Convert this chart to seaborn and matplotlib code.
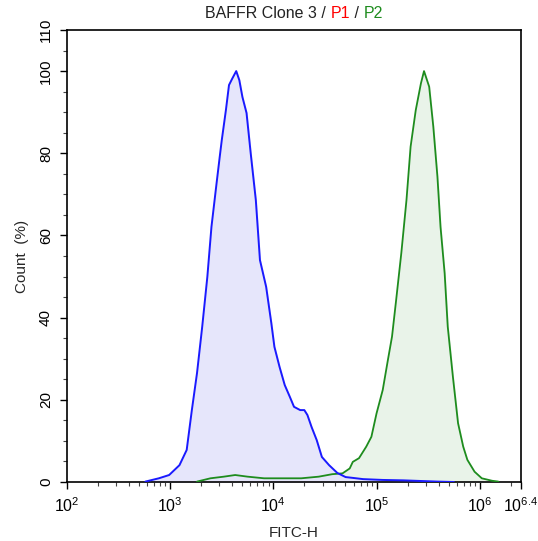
import numpy as np
import pandas as pd
import matplotlib
matplotlib.use("Agg")
import matplotlib.pyplot as plt
import seaborn as sns

# log10(FITC-H) positions and Count (%)
p1_log = [2.76, 2.89, 2.99, 3.09, 3.16, 3.21, 3.26, 3.31, 3.36, 3.40, 3.45, 3.48,
          3.50, 3.54, 3.57, 3.60, 3.64, 3.67, 3.70, 3.74, 3.78, 3.83, 3.87, 3.93,
          3.98, 4.01, 4.06, 4.11, 4.16, 4.20, 4.26, 4.30, 4.33, 4.37, 4.42, 4.47,
          4.54, 4.62, 4.70, 4.77, 4.87, 5.06, 5.26, 5.59, 5.75]
p1_count = [0.1, 0.9, 1.7, 4.1, 7.8, 17.5, 26.5, 37.7, 49.9, 62.1, 72.8, 79.1,
            83.2, 90.5, 96.6, 98.1, 100.0, 97.8, 93.7, 89.8, 80.1, 68.6, 54.0, 47.5,
            38.7, 32.9, 28.0, 23.6, 20.7, 18.3, 17.5, 17.5, 16.3, 13.4, 10.2, 6.1,
            4.1, 2.2, 1.2, 1.0, 0.7, 0.5, 0.4, 0.1, 0.0]

p2_log = [3.26, 3.39, 3.52, 3.63, 3.75, 3.91, 4.08, 4.27, 4.44, 4.57, 4.67, 4.74,
          4.77, 4.83, 4.90, 4.95, 5.00, 5.06, 5.11, 5.15, 5.19, 5.24, 5.29, 5.33,
          5.38, 5.43, 5.46, 5.51, 5.55, 5.59, 5.62, 5.66, 5.69, 5.74, 5.79, 5.84,
          5.88, 5.95, 6.02, 6.12, 6.18]
p2_count = [0.1, 0.9, 1.3, 1.7, 1.3, 0.9, 0.9, 0.9, 1.3, 1.9, 2.1, 3.3,
            4.9, 5.8, 8.6, 11.0, 16.7, 22.4, 29.7, 35.4, 44.3, 55.7, 68.6, 81.6,
            90.5, 97.0, 100.0, 96.2, 86.5, 74.3, 62.1, 50.8, 37.8, 25.6, 14.3, 8.6,
            5.4, 2.5, 0.9, 0.3, 0.1]

x_major = [2, 3, 4, 5, 6, 6.4]
x_major_labels = ["$10^{2}$", "$10^{3}$", "$10^{4}$", "$10^{5}$", "$10^{6}$", "$10^{6.4}$"]
y_major = [0, 20, 40, 60, 80, 100, 110]

sns.set_style("ticks")
plt.rcParams['font.family'] = ['Liberation Sans', 'DejaVu Sans']
plt.rcParams['mathtext.fontset'] = 'custom'
plt.rcParams['mathtext.rm'] = 'Liberation Sans'
plt.rcParams['mathtext.it'] = 'Liberation Sans'

fig = plt.figure(figsize=(5.38, 5.41), dpi=100)
ax = fig.add_axes([67 / 538, 1 - 482 / 541, (521 - 67) / 538, (482 - 30) / 541])

p1 = pd.DataFrame({"FITC-H": np.power(10.0, p1_log), "Count": p1_count})
p2 = pd.DataFrame({"FITC-H": np.power(10.0, p2_log), "Count": p2_count})

ax.fill_between(p2["FITC-H"], p2["Count"], color="#e9f3e9", zorder=1)
ax.fill_between(p1["FITC-H"], p1["Count"], color="#e4e4fb", alpha=0.9, zorder=2)
sns.lineplot(data=p2, x="FITC-H", y="Count", color="#1e8c1e", lw=1.3, ax=ax, zorder=3)
sns.lineplot(data=p1, x="FITC-H", y="Count", color="#1a1aff", lw=1.4, ax=ax, zorder=4)

ax.set_xscale("log")
ax.set_xlim(10 ** 2, 10 ** 6.4)
ax.set_ylim(0, 110)
ax.set_xticks([10 ** v for v in x_major])
ax.set_xticklabels(x_major_labels)
minor = [k * 10 ** d for d in range(2, 7) for k in range(2, 10) if k * 10 ** d < 10 ** 6.4]
ax.set_xticks(minor, minor=True)
ax.set_yticks(y_major)
ax.set_yticks([v for v in range(5, 110, 5) if v not in y_major], minor=True)
ax.tick_params(axis="both", which="major", direction="out", length=5, width=1,
               labelsize=11, colors="black", pad=5)
ax.tick_params(axis="x", which="major", labelsize=11.5)
ax.tick_params(axis="both", which="minor", direction="out", length=3, width=0.8, colors="#444444")
ax.tick_params(axis="y", labelrotation=90)
for t in ax.get_yticklabels():
    t.set_va("center")

for s in ax.spines.values():
    s.set_visible(True)
    s.set_color("black")
    s.set_linewidth(1.2)

ax.set_xlabel("FITC-H", fontsize=11, labelpad=8)
ax.set_ylabel("Count  (%)", fontsize=11, labelpad=7)

# title in three colours
parts = [("BAFFR Clone 3 / ", "#222222"), ("P1", "red"), (" / ", "#222222"), ("P2", "#1e8c1e")]
fig.canvas.draw()
r = fig.canvas.get_renderer()
texts = []
for s, c in parts:
    texts.append(fig.text(0, 0, s, color=c, fontsize=11.5, va="center", ha="left"))
widths = [t.get_window_extent(r).width for t in texts]
x0 = (67 + 521) / 2 - sum(widths) / 2
for t, w in zip(texts, widths):
    t.set_position((x0 / 538, 1 - 14 / 541))
    x0 += w

fig.savefig("out.png", dpi=100)
